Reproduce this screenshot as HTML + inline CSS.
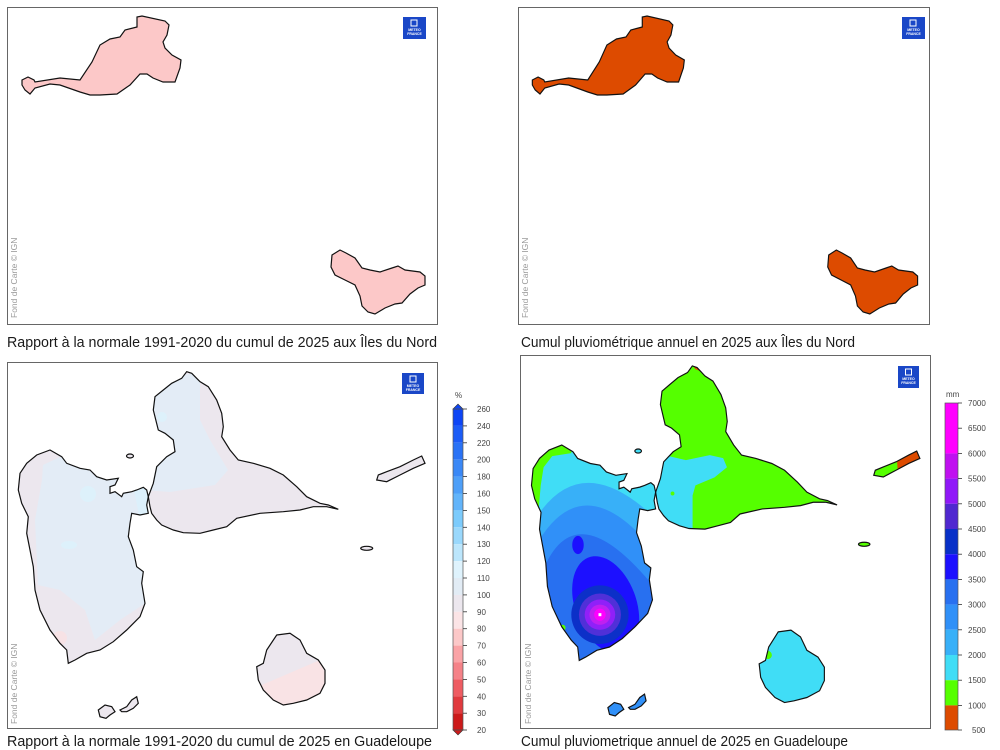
<!DOCTYPE html>
<html><head><meta charset="utf-8"><style>
html,body{margin:0;padding:0;background:#fff;}
svg{display:block;}
text{font-family:"Liberation Sans",sans-serif;}
</style></head><body>
<svg width="1000" height="750" viewBox="0 0 1000 750" xmlns="http://www.w3.org/2000/svg">
<defs>
<path id="stm" d="M22,80 L28,77 L34,80 L35,82 L60,78 L80,80 L92,62 L100,45 L110,39 L120,37 L125,30 L137,27 L137,17 L142,16 L165,21 L169,25 L167,35 L163,42 L165,48 L172,55 L181,60 L180,68 L175,82 L163,82 L153,78 L147,74 L140,74 L130,85 L117,94 L100,95 L90,95 L80,92 L60,85 L50,84 L35,88 L30,94 L25,90 L22,85 Z"/>
<path id="stb" d="M332,255 L340,250 L346,253 L355,258 L362,268 L370,270 L380,272 L392,268 L398,266 L405,270 L420,272 L425,276 L425,285 L418,288 L410,294 L402,303 L395,304 L385,308 L375,314 L368,312 L362,306 L360,296 L355,285 L345,280 L335,275 L331,267 Z"/>
<path id="bt" d="M50,450 L61.7,456.7 L66.7,463.3 L80,468.3 L90,470 L96.7,476.7 L106.7,480 L118.3,478.3 L115,485 L110,486.7 L110,493.3 L115,491.7 L121.7,496.7 L123.3,493.3 L131.7,491.7 L136.7,490 L143.3,487.3 L146.7,490 L148.3,496.7 L146.7,505 L148.3,513.3 L140,515 L131.7,513.3 L130,523.3 L128.3,536.7 L133.3,550 L136.7,566.7 L143.3,571.7 L141.7,583.3 L145,603.3 L140,616.7 L126.7,630 L113.3,641.7 L100,650 L86.7,653.3 L75,660 L68.3,663.3 L66.7,650 L60,643.3 L50,630 L40,610 L35,590 L33.3,566.7 L30,550 L26.7,533.3 L28.3,516.7 L21.7,503.3 L18.3,490 L20,473.3 L26.7,463.3 L36.7,455 Z"/>
<path id="gt" d="M148.3,496.7 L153.3,483.3 L156.7,466.7 L166.7,456.7 L175,451.7 L173.3,440 L165,433.3 L158.3,430 L153.3,410 L155,396.7 L163.3,390 L171.7,383.3 L181.7,378.3 L186.7,371.7 L191.7,373.3 L200,381.7 L208.3,386.7 L216.7,400 L221.7,413.3 L223.3,426.7 L221.7,436.7 L230,450 L238.3,460 L253.3,463.3 L270,468.3 L283.3,475 L296.7,486.7 L306.7,496.7 L320,503.3 L328.3,505 L338.3,509.3 L326.7,506.7 L313.3,506.7 L300,510 L283.3,511.7 L260,513.3 L236.7,518.3 L226.7,526.7 L213.3,530 L200,533.3 L183.3,532.7 L173.3,530 L161.7,525 L156.7,520 L151.7,513.3 L150,506.7 Z"/>
<path id="mg" d="M276.7,635 L290,633.3 L300,640 L306.7,653.3 L318.3,660 L325,670 L325,683.3 L320,693.3 L306.7,700 L293.3,703.3 L283.3,705 L273.3,700 L263.3,690 L258.3,680 L256.7,666.7 L263.3,663.3 L266.7,650 Z"/>
<path id="de" d="M376.7,480 L378.3,475 L386.7,471.7 L400,466.7 L413.3,460 L421.7,456 L425,463.3 L413.3,468.3 L400,475 L386.7,481.7 Z"/>
<path id="s1" d="M98.3,710 L105,705 L111.7,706.7 L115,711.7 L110,715 L106,718.3 L100,716.7 Z"/>
<path id="s2" d="M120,710 L126.7,706.7 L131.7,700 L136.7,696.7 L138.3,703.3 L133.3,708.3 L126.7,711.7 L121.7,711.7 Z"/>
<clipPath id="cbt"><use href="#bt"/></clipPath>
<clipPath id="cgt"><use href="#gt"/></clipPath>
<clipPath id="cmg"><use href="#mg"/></clipPath>
<clipPath id="cde"><use href="#de"/></clipPath>
</defs>

<!-- Panel borders -->
<rect x="7.5" y="7.5" width="430" height="317" fill="#fff" stroke="#666" stroke-width="1"/>
<rect x="518.5" y="7.5" width="411" height="317" fill="#fff" stroke="#666" stroke-width="1"/>
<rect x="7.5" y="362.5" width="430" height="366" fill="#fff" stroke="#666" stroke-width="1"/>
<rect x="520.5" y="355.5" width="410" height="373" fill="#fff" stroke="#666" stroke-width="1"/>

<!-- Top-left -->
<g fill="#fcc8c8" stroke="#111" stroke-width="1.2">
<use href="#stm"/><use href="#stb"/>
</g>
<!-- Top-right -->
<g transform="translate(511.3,0) scale(0.956,1)" fill="#dd4b00" stroke="#111" stroke-width="1.2">
<use href="#stm"/><use href="#stb"/>
</g>

<!-- Bottom-left -->
<g>
<g fill="#ece7ee"><use href="#bt"/><use href="#gt"/><use href="#mg"/><use href="#de"/><use href="#s1"/><use href="#s2"/>
<ellipse cx="366.7" cy="548.3" rx="6" ry="2"/><ellipse cx="130" cy="456" rx="3.5" ry="2"/></g>
<path clip-path="url(#cbt)" fill="#e3ecf6" d="M43,465 L60,457 L150,470 L150,600 L120,620 L95,640 L85,610 L60,590 L38,585 L35,520 L42,480 Z"/>
<path clip-path="url(#cbt)" fill="#dcf0fb" d="M130,470 L155,480 L155,520 L140,520 Z"/>
<circle cx="88" cy="494" r="8" fill="#ddf1fb"/>
<ellipse cx="69" cy="545" rx="8" ry="4" fill="#ddf1fb"/>
<path clip-path="url(#cgt)" fill="#e3ecf6" d="M145,490 L155,380 L200,372 L200,420 L210,440 L228,470 L215,485 L170,492 Z"/>
<circle cx="162" cy="417" r="5" fill="#ddf1fb"/>
<circle cx="60" cy="638" r="7" fill="#f7e2e5" clip-path="url(#cbt)"/>
<path clip-path="url(#cmg)" fill="#f9e3e5" d="M250,690 L320,660 L335,700 L290,712 Z"/>
<g fill="none" stroke="#111" stroke-width="1.2"><use href="#bt"/><use href="#gt"/><use href="#mg"/><use href="#de"/><use href="#s1"/><use href="#s2"/>
<ellipse cx="366.7" cy="548.3" rx="6" ry="2"/><ellipse cx="130" cy="456" rx="3.5" ry="2"/></g>
</g>

<!-- Bottom-right -->
<g transform="translate(514,-9.5) scale(0.955,1.01)">
<g fill="#40ddf6"><use href="#bt"/><use href="#mg"/><ellipse cx="130" cy="456" rx="3.5" ry="2"/></g>
<use href="#gt" fill="#55ff00"/>
<path clip-path="url(#cgt)" fill="#40ddf6" d="M140,460 L153,459 L180,465 L205,460 L219,463 L223,472 L210,482 L190,490 L187,500 L187,545 L140,545 Z"/>
<circle cx="166" cy="498" r="2" fill="#55ff00"/>
<path clip-path="url(#cgt)" fill="#dd4b00" d="M183,366 L197,366 L198,378 L190,375 Z"/>
<use href="#de" fill="#55ff00"/>
<path clip-path="url(#cde)" fill="#dd4b00" d="M399,440 L440,440 L440,490 L403,490 Z"/>
<ellipse cx="366.7" cy="548.3" rx="6" ry="2" fill="#55ff00"/>
<circle cx="266" cy="658" r="4" fill="#55ff00" clip-path="url(#cmg)"/>
<g clip-path="url(#cbt)">
<path fill="#55ff00" d="M10,445 L60,445 L60,458 L40,461 L31,472 L28,490 L26,512 L10,512 Z"/>
<path fill="#38b0f8" d="M10,545 Q66,430 170,545 L170,700 L10,700 Z"/>
<path fill="#3090f8" d="M10,575 Q69,440 170,585 L170,700 L10,700 Z"/>
<path fill="#2870f0" d="M28,580 Q66,480 170,620 L170,700 L28,700 Z"/>
<circle cx="51" cy="631" r="3" fill="#55ff00"/>
<ellipse cx="96" cy="608" rx="32" ry="50" transform="rotate(-22 96 608)" fill="#1c10ff"/>
<ellipse cx="67" cy="549" rx="6" ry="9" fill="#1c10ff"/>
<ellipse cx="90" cy="618" rx="30" ry="29" fill="#0c30c8"/>
<ellipse cx="90" cy="618" rx="22" ry="21" fill="#5030d8"/>
<ellipse cx="90" cy="618" rx="16" ry="15" fill="#9020f8"/>
<ellipse cx="90" cy="618" rx="11" ry="10" fill="#c020f0"/>
<ellipse cx="90" cy="618" rx="6" ry="6" fill="#ff00ff"/>
<rect x="88.5" y="616.5" width="3" height="3" fill="#fff"/>
</g>
<g fill="#3090f8"><use href="#s1"/><use href="#s2"/></g>
<g fill="none" stroke="#111" stroke-width="1.2"><use href="#bt"/><use href="#gt"/><use href="#mg"/><use href="#de"/><use href="#s1"/><use href="#s2"/>
<ellipse cx="366.7" cy="548.3" rx="6" ry="2"/><ellipse cx="130" cy="456" rx="3.5" ry="2"/></g>
</g>

<!-- Logos -->
<g font-size="3.5" fill="#fff" text-anchor="middle" font-weight="bold">
<rect x="403" y="17" width="23" height="22" fill="#1a47c7"/><rect x="411" y="20" width="6" height="6" fill="none" stroke="#fff" stroke-width="1"/><text x="414.5" y="31">METEO</text><text x="414.5" y="35">FRANCE</text>
<rect x="902" y="17" width="23" height="22" fill="#1a47c7"/><rect x="910" y="20" width="6" height="6" fill="none" stroke="#fff" stroke-width="1"/><text x="913.5" y="31">METEO</text><text x="913.5" y="35">FRANCE</text>
<rect x="402" y="373" width="22" height="21" fill="#1a47c7"/><rect x="410" y="376" width="6" height="6" fill="none" stroke="#fff" stroke-width="1"/><text x="413" y="387">METEO</text><text x="413" y="391">FRANCE</text>
<rect x="898" y="366" width="21" height="22" fill="#1a47c7"/><rect x="905.5" y="369" width="6" height="6" fill="none" stroke="#fff" stroke-width="1"/><text x="908.5" y="380">METEO</text><text x="908.5" y="384">FRANCE</text>
</g>

<!-- Fond de carte -->
<g font-size="8.5" fill="#9a9a9a">
<text transform="translate(17,318) rotate(-90)">Fond de Carte © IGN</text>
<text transform="translate(528,318) rotate(-90)">Fond de Carte © IGN</text>
<text transform="translate(17,724) rotate(-90)">Fond de Carte © IGN</text>
<text transform="translate(531,724) rotate(-90)">Fond de Carte © IGN</text>
</g>

<!-- Captions -->
<g font-size="15" fill="#1a1a1a">
<text x="7" y="347" textLength="430" lengthAdjust="spacingAndGlyphs">Rapport à la normale 1991-2020 du cumul de 2025 aux Îles du Nord</text>
<text x="521" y="347" textLength="334" lengthAdjust="spacingAndGlyphs">Cumul pluviométrique annuel en 2025 aux Îles du Nord</text>
<text x="7" y="746" textLength="425" lengthAdjust="spacingAndGlyphs">Rapport à la normale 1991-2020 du cumul de 2025 en Guadeloupe</text>
<text x="521" y="746" textLength="327" lengthAdjust="spacingAndGlyphs">Cumul pluviometrique annuel de 2025 en Guadeloupe</text>
</g>

<!-- Left colorbar -->
<g>
<rect x="453" y="409.0" width="10" height="16.9" fill="#0d45f5"/>
<rect x="453" y="425.9" width="10" height="16.9" fill="#1c5cf6"/>
<rect x="453" y="442.8" width="10" height="16.9" fill="#2a72f5"/>
<rect x="453" y="459.7" width="10" height="16.9" fill="#3a88f6"/>
<rect x="453" y="476.6" width="10" height="16.9" fill="#4e9ff8"/>
<rect x="453" y="493.5" width="10" height="16.9" fill="#62b4fa"/>
<rect x="453" y="510.4" width="10" height="16.9" fill="#7ccbfc"/>
<rect x="453" y="527.3" width="10" height="16.9" fill="#9ad8fc"/>
<rect x="453" y="544.2" width="10" height="16.9" fill="#bce6fc"/>
<rect x="453" y="561.1" width="10" height="16.9" fill="#dff3fd"/>
<rect x="453" y="578.0" width="10" height="16.9" fill="#e2ecf5"/>
<rect x="453" y="594.9" width="10" height="16.9" fill="#ece7ee"/>
<rect x="453" y="611.8" width="10" height="16.9" fill="#fbe4e6"/>
<rect x="453" y="628.7" width="10" height="16.9" fill="#fcc8c8"/>
<rect x="453" y="645.6" width="10" height="16.9" fill="#faa3a6"/>
<rect x="453" y="662.5" width="10" height="16.9" fill="#f58288"/>
<rect x="453" y="679.4" width="10" height="16.9" fill="#ee5c62"/>
<rect x="453" y="696.3" width="10" height="16.9" fill="#e03a3e"/>
<rect x="453" y="713.2" width="10" height="16.8" fill="#cc1a1a"/>
<path d="M453,409 L458,404 L463,409 Z" fill="#0d45f5" stroke="#333" stroke-width="0.6"/>
<path d="M453,730 L458,735 L463,730 Z" fill="#cc1a1a" stroke="#333" stroke-width="0.6"/>
<rect x="453" y="409" width="10" height="321" fill="none" stroke="#555" stroke-width="0.7"/>
<g stroke="#333" stroke-width="0.8">
<line x1="463" y1="409" x2="467" y2="409"/><line x1="463" y1="425.9" x2="467" y2="425.9"/><line x1="463" y1="442.8" x2="467" y2="442.8"/><line x1="463" y1="459.7" x2="467" y2="459.7"/><line x1="463" y1="476.6" x2="467" y2="476.6"/><line x1="463" y1="493.5" x2="467" y2="493.5"/><line x1="463" y1="510.4" x2="467" y2="510.4"/><line x1="463" y1="527.3" x2="467" y2="527.3"/><line x1="463" y1="544.2" x2="467" y2="544.2"/><line x1="463" y1="561.1" x2="467" y2="561.1"/><line x1="463" y1="578" x2="467" y2="578"/><line x1="463" y1="594.9" x2="467" y2="594.9"/><line x1="463" y1="611.8" x2="467" y2="611.8"/><line x1="463" y1="628.7" x2="467" y2="628.7"/><line x1="463" y1="645.6" x2="467" y2="645.6"/><line x1="463" y1="662.5" x2="467" y2="662.5"/><line x1="463" y1="679.4" x2="467" y2="679.4"/><line x1="463" y1="696.3" x2="467" y2="696.3"/><line x1="463" y1="713.2" x2="467" y2="713.2"/><line x1="463" y1="730" x2="467" y2="730"/>
</g>
<g font-size="8" fill="#444">
<text x="455" y="398">%</text>
<text x="477" y="412">260</text><text x="477" y="428.9">240</text><text x="477" y="445.8">220</text><text x="477" y="462.7">200</text><text x="477" y="479.6">180</text><text x="477" y="496.5">160</text><text x="477" y="513.4">150</text><text x="477" y="530.3">140</text><text x="477" y="547.2">130</text><text x="477" y="564.1">120</text><text x="477" y="581">110</text><text x="477" y="597.9">100</text><text x="477" y="614.8">90</text><text x="477" y="631.7">80</text><text x="477" y="648.6">70</text><text x="477" y="665.5">60</text><text x="477" y="682.4">50</text><text x="477" y="699.3">40</text><text x="477" y="716.2">30</text><text x="477" y="733">20</text>
</g>
</g>

<!-- Right colorbar -->
<g>
<rect x="945" y="403" width="13" height="50.4" fill="#ff00ff"/>
<rect x="945" y="453.4" width="13" height="25.2" fill="#c010f0"/>
<rect x="945" y="478.6" width="13" height="25.2" fill="#9018f8"/>
<rect x="945" y="503.8" width="13" height="25.2" fill="#5028d0"/>
<rect x="945" y="529.0" width="13" height="25.2" fill="#0830c8"/>
<rect x="945" y="554.2" width="13" height="25.2" fill="#1c10ff"/>
<rect x="945" y="579.4" width="13" height="25.2" fill="#2870f0"/>
<rect x="945" y="604.6" width="13" height="25.2" fill="#3090f8"/>
<rect x="945" y="629.8" width="13" height="25.2" fill="#38b0f8"/>
<rect x="945" y="655.0" width="13" height="25.2" fill="#40ddf6"/>
<rect x="945" y="680.2" width="13" height="25.2" fill="#55ff00"/>
<rect x="945" y="705.4" width="13" height="24.6" fill="#dd4b00"/>
<rect x="945" y="403" width="13" height="327" fill="none" stroke="#555" stroke-width="0.7"/>
<g stroke="#333" stroke-width="0.8">
<line x1="958" y1="403" x2="962" y2="403"/><line x1="958" y1="428.2" x2="962" y2="428.2"/><line x1="958" y1="453.4" x2="962" y2="453.4"/><line x1="958" y1="478.6" x2="962" y2="478.6"/><line x1="958" y1="503.8" x2="962" y2="503.8"/><line x1="958" y1="529" x2="962" y2="529"/><line x1="958" y1="554.2" x2="962" y2="554.2"/><line x1="958" y1="579.4" x2="962" y2="579.4"/><line x1="958" y1="604.6" x2="962" y2="604.6"/><line x1="958" y1="629.8" x2="962" y2="629.8"/><line x1="958" y1="655" x2="962" y2="655"/><line x1="958" y1="680.2" x2="962" y2="680.2"/><line x1="958" y1="705.4" x2="962" y2="705.4"/><line x1="958" y1="730" x2="962" y2="730"/>
</g>
<g font-size="8" fill="#444">
<text x="946" y="397">mm</text>
<text x="968" y="406">7000</text><text x="968" y="431.2">6500</text><text x="968" y="456.4">6000</text><text x="968" y="481.6">5500</text><text x="968" y="506.8">5000</text><text x="968" y="532">4500</text><text x="968" y="557.2">4000</text><text x="968" y="582.4">3500</text><text x="968" y="607.6">3000</text><text x="968" y="632.8">2500</text><text x="968" y="658">2000</text><text x="968" y="683.2">1500</text><text x="968" y="708.4">1000</text><text x="972" y="733">500</text>
</g>
</g>
</svg>
</body></html>
